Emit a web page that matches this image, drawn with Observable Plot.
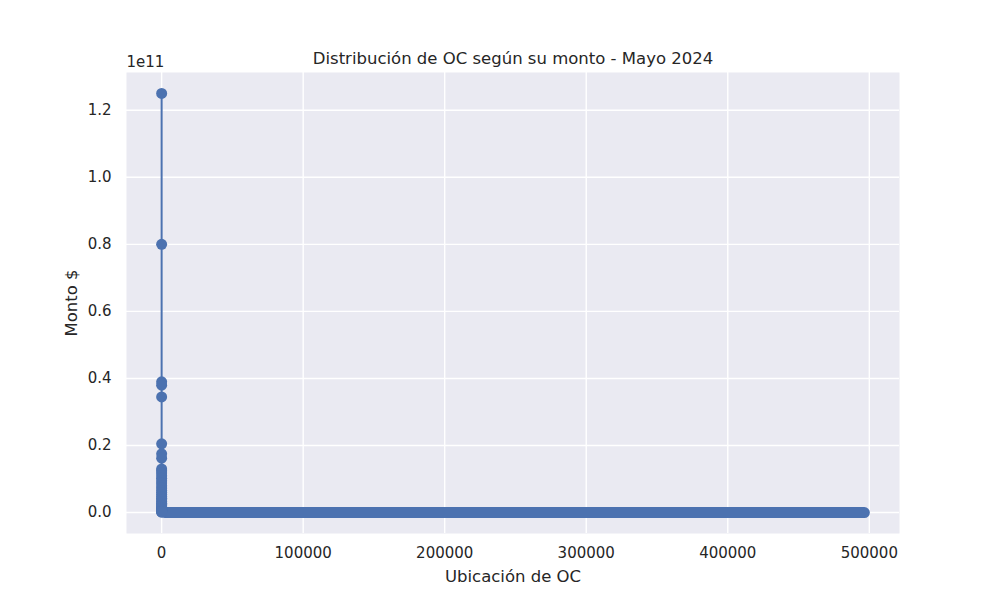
<!DOCTYPE html>
<html><head><meta charset="utf-8">
<script src="https://cdn.jsdelivr.net/npm/d3@7"></script>
<script src="https://cdn.jsdelivr.net/npm/@observablehq/plot@0.6"></script>
<style>body{margin:0;background:#fff;font-family:"DejaVu Sans",sans-serif;}</style>
</head><body><div id="chart"></div>
<script>
// Head of the sorted distribution (largest purchase orders), amounts in $
const headIndex = [0,1,2,3,4,5,6,7,8,9,10,11,12,13,14,15,16,17,18,19,20,21,22,23,24,25,26,27,28,29,30,31,32,33];
const headMonto = [1.25e11,8.0e10,3.9e10,3.8e10,3.45e10,2.05e10,1.75e10,1.62e10,1.3e10,1.25e10,1.18e10,1.1e10,1.02e10,9.5e9,8.8e9,8.0e9,7.3e9,6.6e9,6.0e9,5.4e9,4.8e9,4.3e9,3.8e9,3.3e9,2.8e9,2.4e9,2.0e9,1.6e9,1.3e9,1.0e9,7e8,5e8,3e8,1.5e8];
// Tail: the ~496k remaining orders, all visually at ~0
const tailIndex = [34, 2000, 496500];
const tailMonto = [1.2e8, 5e7, 1e5];
const xTicks = [0,100000,200000,300000,400000,500000];
const yTicks = [0,0.2e11,0.4e11,0.6e11,0.8e11,1.0e11,1.2e11];
const title = "Distribución de OC según su monto - Mayo 2024";
const xLabel = "Ubicación de OC";
const yLabel = "Monto $";
const offsetLabel = "1e11";

const head = headIndex.map((x,i)=>({x, y: headMonto[i]}));
const tail = tailIndex.map((x,i)=>({x, y: tailMonto[i]}));
const all = head.concat(tail);

const xExt = d3.extent(all, d=>d.x), yExt = d3.extent(all, d=>d.y);
const xPad = (xExt[1]-xExt[0])*0.05, yPad = (yExt[1]-yExt[0])*0.05;
const blue = "#4C72B0";
const font = "DejaVu Sans";

const chart = Plot.plot({
  width: 1000, height: 600,
  marginLeft: 126, marginRight: 101, marginTop: 72, marginBottom: 67,
  style: {fontFamily: font, color: "#262626", background: "white"},
  x: {domain: [xExt[0]-xPad, xExt[1]+xPad]},
  y: {domain: [yExt[0]-yPad, yExt[1]+yPad]},
  marks: [
    Plot.frame({fill: "#EAEAF2", stroke: "none"}),
    Plot.gridX(xTicks, {stroke: "white", strokeOpacity: 1, strokeWidth: 1.4}),
    Plot.gridY(yTicks, {stroke: "white", strokeOpacity: 1, strokeWidth: 1.4}),
    Plot.axisX(xTicks, {tickSize: 0, tickPadding: 14, fontSize: 15, fontFamily: font, tickFormat: d3.format("d"), label: null}),
    Plot.axisY(yTicks, {tickSize: 0, tickPadding: 15, fontSize: 15, fontFamily: font, tickFormat: d => (d/1e11).toFixed(1), label: null}),
    Plot.line(all, {x: "x", y: "y", stroke: blue, strokeWidth: 2}),
    Plot.line(tail, {x: "x", y: "y", stroke: blue, strokeWidth: 11, strokeLinecap: "round", strokeLinejoin: "round"}),
    Plot.dot(head, {x: "x", y: "y", r: 5.5, fill: blue, stroke: "none"}),
    Plot.text([title], {frameAnchor: "top", lineAnchor: "middle", textAnchor: "middle", dy: -14, fontSize: 16.5, fontFamily: font, fill: "#262626"}),
    Plot.text([offsetLabel], {frameAnchor: "top-left", lineAnchor: "middle", textAnchor: "start", dy: -10, fontSize: 15, fontFamily: font, fill: "#262626"}),
    Plot.text([xLabel], {frameAnchor: "bottom", lineAnchor: "middle", textAnchor: "middle", dy: 43, fontSize: 16.5, fontFamily: font, fill: "#262626"}),
    Plot.text([yLabel], {frameAnchor: "left", lineAnchor: "middle", textAnchor: "middle", dx: -55, rotate: -90, fontSize: 16.5, fontFamily: font, fill: "#262626"})
  ]
});
document.getElementById("chart").appendChild(chart);
</script>
</body></html>
